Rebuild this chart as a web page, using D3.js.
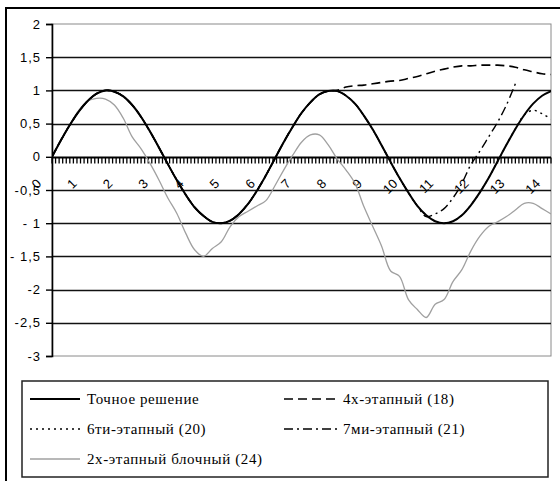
<!DOCTYPE html>
<html>
<head>
<meta charset="utf-8">
<script src="https://cdn.jsdelivr.net/npm/d3@7"></script>
<style>
    body { margin: 0; background: #fff; }
    #chart { width: 560px; height: 481px; }
</style>
</head>
<body>
<div id="chart"></div>
<script>

// time points (step 0.25)
const tValues = [0, 0.25, 0.5, 0.75, 1, 1.25, 1.5, 1.75, 2, 2.25, 2.5, 2.75, 3, 3.25, 3.5, 3.75,
    4, 4.25, 4.5, 4.75, 5, 5.25, 5.5, 5.75, 6, 6.25, 6.5, 6.75, 7, 7.25, 7.5, 7.75,
    8, 8.25, 8.5, 8.75, 9, 9.25, 9.5, 9.75, 10, 10.25, 10.5, 10.75, 11, 11.25, 11.5, 11.75,
    12, 12.25, 12.5, 12.75, 13, 13.25, 13.5, 13.75, 14];

// Точное решение
const exact = [0, 0.25, 0.48, 0.68, 0.84, 0.95, 1.0, 0.98, 0.91, 0.78, 0.6, 0.38, 0.14, -0.11, -0.35, -0.57,
    -0.76, -0.89, -0.98, -1.0, -0.96, -0.86, -0.71, -0.51, -0.28, -0.03, 0.22, 0.45, 0.66, 0.82, 0.94, 0.99,
    0.99, 0.92, 0.8, 0.62, 0.41, 0.17, -0.08, -0.32, -0.54, -0.74, -0.88, -0.97, -1.0, -0.97, -0.88, -0.73,
    -0.54, -0.32, -0.07, 0.18, 0.42, 0.63, 0.8, 0.92, 0.99];

// 4х-этапный (18)
const stage4 = [0, 0.25, 0.48, 0.68, 0.84, 0.95, 1.0, 0.98, 0.91, 0.78, 0.6, 0.38, 0.14, -0.11, -0.35, -0.57,
    -0.76, -0.89, -0.98, -1.0, -0.96, -0.86, -0.71, -0.51, -0.28, -0.03, 0.22, 0.45, 0.66, 0.82, 0.94, 0.99,
    1.0, 1.05, 1.07, 1.08, 1.1, 1.12, 1.14, 1.15, 1.18, 1.21, 1.25, 1.29, 1.32, 1.35, 1.37, 1.37,
    1.38, 1.38, 1.38, 1.37, 1.35, 1.31, 1.28, 1.25, 1.24];

// 6ти-этапный (20)
const stage6 = [0, 0.25, 0.48, 0.68, 0.84, 0.95, 1.0, 0.98, 0.91, 0.78, 0.6, 0.38, 0.14, -0.11, -0.35, -0.57,
    -0.76, -0.89, -0.98, -1.0, -0.96, -0.86, -0.71, -0.51, -0.28, -0.03, 0.22, 0.45, 0.66, 0.82, 0.94, 0.99,
    0.99, 0.92, 0.8, 0.62, 0.41, 0.17, -0.08, -0.32, -0.54, -0.74, -0.88, -0.97, -1.0, -0.97, -0.88, -0.73,
    -0.54, -0.32, -0.07, 0.18, 0.42, 0.63, 0.7, 0.65, 0.57];

// 7ми-этапный (21) - no values after t = 13
const stage7 = [0, 0.25, 0.48, 0.68, 0.84, 0.95, 1.0, 0.98, 0.91, 0.78, 0.6, 0.38, 0.14, -0.11, -0.35, -0.57,
    -0.76, -0.89, -0.98, -1.0, -0.96, -0.86, -0.71, -0.51, -0.28, -0.03, 0.22, 0.45, 0.66, 0.82, 0.94, 0.99,
    0.99, 0.92, 0.8, 0.62, 0.41, 0.17, -0.08, -0.32, -0.54, -0.74, -0.9, -0.86, -0.78, -0.62, -0.4, -0.12,
    0.08, 0.3, 0.52, 0.78, 1.1, null, null, null, null];

// 2х-этапный блочный (24)
const block2 = [0, 0.24, 0.48, 0.7, 0.84, 0.88, 0.87, 0.78, 0.58, 0.3, 0.12, -0.1, -0.35, -0.62, -0.85, -1.15,
    -1.4, -1.5, -1.38, -1.28, -1.05, -0.9, -0.82, -0.74, -0.66, -0.44, -0.2, 0.02, 0.22, 0.33, 0.33, 0.18,
    -0.03, -0.2, -0.4, -0.75, -1.05, -1.35, -1.72, -1.8, -2.15, -2.3, -2.42, -2.22, -2.15, -1.88, -1.7, -1.42,
    -1.2, -1.05, -0.98, -0.9, -0.8, -0.7, -0.7, -0.78, -0.86];

const seriesNames = ["Точное решение", "4х-этапный (18)", "6ти-этапный (20)", "7ми-этапный (21)", "2х-этапный блочный (24)"];
const xTickLabels = ["0", "1", "2", "3", "4", "5", "6", "7", "8", "9", "10", "11", "12", "13", "14"];
const yTickValues = [2, 1.5, 1, 0.5, 0, -0.5, -1, -1.5, -2, -2.5, -3];
const yTickLabels = ["2", "1,5", "1", "0,5", "0", "-0,5", "- 1", "- 1,5", "-2", "-2,5", "-3"];

const series = [
    {name: seriesNames[0], values: exact, color: "#000", width: 2, dash: null},
    {name: seriesNames[1], values: stage4, color: "#000", width: 1.6, dash: "9,5"},
    {name: seriesNames[2], values: stage6, color: "#000", width: 1.4, dash: "2,4"},
    {name: seriesNames[3], values: stage7, color: "#000", width: 1.4, dash: "9,4,2,4"},
    {name: seriesNames[4], values: block2, color: "#a0a0a0", width: 1.3, dash: null}
];

const sansFont = "Liberation Sans, Arial, sans-serif";
const serifFont = "Liberation Serif, Times New Roman, serif";

const svg = d3.select("#chart")
    .append("svg")
    .attr("width", 560)
    .attr("height", 481);

// outer chart frame (runs off the right and bottom edge)
svg.append("rect")
    .attr("x", 6)
    .attr("y", 8)
    .attr("width", 600)
    .attr("height", 520)
    .attr("fill", "none")
    .attr("stroke", "#000")
    .attr("stroke-width", 2);

const plot = {left: 52, right: 551, top: 24, bottom: 356};

const x = d3.scaleLinear().domain([0, 14]).range([plot.left, plot.right]);
const y = d3.scaleLinear().domain([-3, 2]).range([plot.bottom, plot.top]);

// plot area border
svg.append("rect")
    .attr("x", plot.left)
    .attr("y", plot.top)
    .attr("width", plot.right - plot.left)
    .attr("height", plot.bottom - plot.top)
    .attr("fill", "none")
    .attr("stroke", "#8a8a8a")
    .attr("stroke-width", 1);

// gridlines
svg.append("g")
    .selectAll("line")
    .data(yTickValues.filter(v => v < 2 && v > -3 && v !== 0))
    .enter()
    .append("line")
    .attr("x1", plot.left)
    .attr("x2", plot.right)
    .attr("y1", d => Math.round(y(d)) + 0.5)
    .attr("y2", d => Math.round(y(d)) + 0.5)
    .attr("stroke", "#111")
    .attr("stroke-width", 1.6);

// y axis
const yAxis = d3.axisLeft(y)
    .tickValues(yTickValues)
    .tickSize(6)
    .tickFormat((d, i) => yTickLabels[i]);

const yg = svg.append("g")
    .attr("transform", `translate(${plot.left},0)`)
    .call(yAxis);
yg.select(".domain").attr("stroke", "#000").attr("stroke-width", 1.6);
yg.selectAll(".tick line").attr("stroke", "#000").attr("stroke-width", 1.4);
yg.selectAll(".tick text")
    .attr("x", -11)
    .style("font-family", sansFont)
    .style("font-size", "13px")
    .style("letter-spacing", "1px")
    .attr("fill", "#000");

// x axis at y = 0 with dense minor ticks
const x0 = Math.round(y(0)) + 0.5;
svg.append("line")
    .attr("x1", plot.left)
    .attr("x2", plot.right)
    .attr("y1", x0)
    .attr("y2", x0)
    .attr("stroke", "#000")
    .attr("stroke-width", 2);

svg.append("g")
    .selectAll("line")
    .data(d3.range(0, 141).map(i => i / 10))
    .enter()
    .append("line")
    .attr("x1", d => x(d))
    .attr("x2", d => x(d))
    .attr("y1", x0)
    .attr("y2", x0 + 6)
    .attr("stroke", "#000")
    .attr("stroke-width", 1.3);

svg.append("g")
    .selectAll("text")
    .data(xTickLabels)
    .enter()
    .append("text")
    .attr("transform", (d, i) => `translate(${x(i) - 10},${x0 + 27}) rotate(-45)`)
    .attr("text-anchor", "end")
    .style("font-family", sansFont)
    .style("font-size", "13px")
    .attr("fill", "#000")
    .text(d => d);

// lines
svg.append("clipPath")
    .attr("id", "plotClip")
    .append("rect")
    .attr("x", plot.left)
    .attr("y", plot.top)
    .attr("width", plot.right - plot.left)
    .attr("height", plot.bottom - plot.top);

const line = d3.line()
    .defined(d => d[1] !== null)
    .x(d => x(d[0]))
    .y(d => y(d[1]))
    .curve(d3.curveCatmullRom.alpha(0.5));

// draw gray first so the black ones sit on top
const drawOrder = [4, 1, 3, 2, 0];
svg.append("g")
    .attr("clip-path", "url(#plotClip)")
    .selectAll("path")
    .data(drawOrder.map(i => series[i]))
    .enter()
    .append("path")
    .attr("d", s => line(tValues.map((t, i) => [t, s.values[i]])))
    .attr("fill", "none")
    .attr("stroke", s => s.color)
    .attr("stroke-width", s => s.width)
    .attr("stroke-dasharray", s => s.dash);

// legend
const legend = svg.append("g");

legend.append("rect")
    .attr("x", 22)
    .attr("y", 381)
    .attr("width", 526)
    .attr("height", 96)
    .attr("fill", "#fff")
    .attr("stroke", "#222")
    .attr("stroke-width", 1.5);

const legendPos = [
    {x: 30, y: 399},
    {x: 284, y: 399},
    {x: 30, y: 429},
    {x: 284, y: 429},
    {x: 30, y: 459}
];

const items = legend.selectAll("g.item")
    .data(series)
    .enter()
    .append("g")
    .attr("class", "item")
    .attr("transform", (d, i) => `translate(${legendPos[i].x},${legendPos[i].y})`);

items.append("line")
    .attr("x1", 0)
    .attr("x2", (d, i) => i % 2 === 1 && i < 4 ? 56 : 50)
    .attr("y1", 0)
    .attr("y2", 0)
    .attr("stroke", d => d.color)
    .attr("stroke-width", d => Math.max(d.width, 1.5))
    .attr("stroke-dasharray", d => d.dash);

items.append("text")
    .attr("x", (d, i) => i % 2 === 1 && i < 4 ? 59 : 57)
    .attr("y", 5)
    .style("font-family", serifFont)
    .style("font-size", "15px")
    .style("letter-spacing", "0.6px")
    .attr("fill", "#000")
    .text(d => d.name);

</script>
</body>
</html>
